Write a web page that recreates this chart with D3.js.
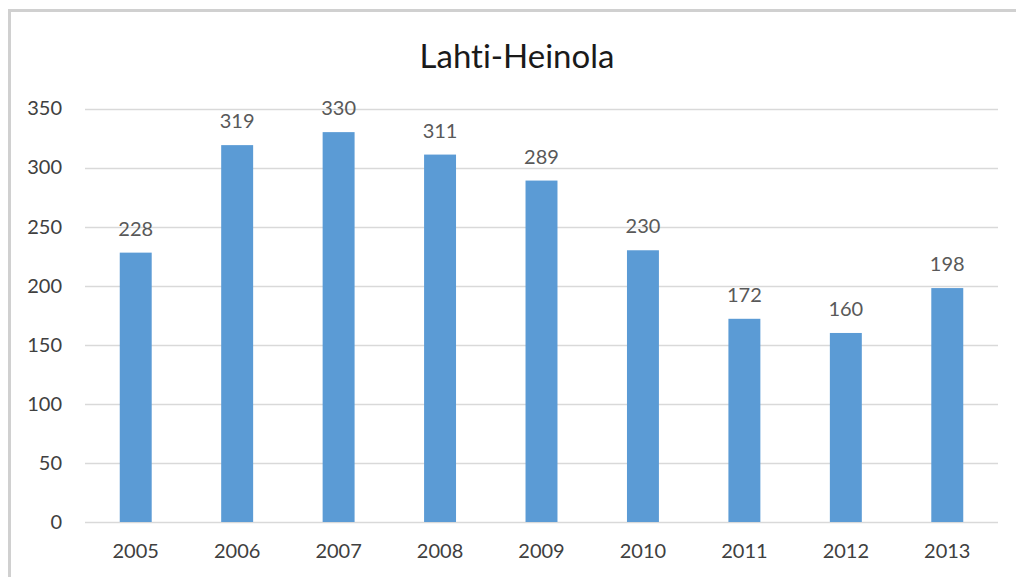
<!DOCTYPE html>
<html><head><meta charset="utf-8">
<script src="https://cdn.jsdelivr.net/npm/d3@7"></script>
<style>body{margin:0;background:#fff}svg{display:block}text{font-variant-ligatures:none;font-feature-settings:"liga" 0}</style>
</head><body><svg id="c" width="1016" height="577"></svg>
<script>
const categories = ["2005","2006","2007","2008","2009","2010","2011","2012","2013"];
const values = [228,319,330,311,289,230,172,160,198];
const yTicks = [0,50,100,150,200,250,300,350];
const title = "Lahti-Heinola";

const svg = d3.select("#c");
const font = "Lato, 'Open Sans', sans-serif";
// chart border (top and left)
svg.append("path").attr("d","M9.5,577 L9.5,10.5 L1016,10.5").attr("fill","none").attr("stroke","#d0d0d0").attr("stroke-width",3);

const x = d3.scaleBand().domain(categories).range([85,998]).paddingInner(0.685).paddingOuter(0.3425);
const y = d3.scaleLinear().domain([0,350]).range([522,108.5]);

svg.append("g").selectAll("line").data(yTicks).join("line")
  .attr("x1",85).attr("x2",998).attr("y1",d=>Math.round(y(d))+0.5).attr("y2",d=>Math.round(y(d))+0.5)
  .attr("stroke","#d9d9d9").attr("stroke-width",1.5);

const yAxis = svg.append("g").attr("transform","translate(62,0)")
  .call(d3.axisLeft(y).tickValues(yTicks).tickSize(0).tickPadding(0));
yAxis.select(".domain").remove();
yAxis.selectAll("text").attr("font-family",font).attr("font-size",20).attr("fill","#404040");

const xAxis = svg.append("g").attr("transform","translate(0,522)")
  .call(d3.axisBottom(x).tickSize(0).tickPadding(22));
xAxis.select(".domain").remove();
xAxis.selectAll("text").attr("font-family",font).attr("font-size",20).attr("fill","#404040");

svg.append("g").selectAll("rect").data(values).join("rect")
  .attr("x",(d,i)=>x(categories[i])).attr("width",x.bandwidth())
  .attr("y",d=>y(d)).attr("height",d=>y(0)-y(d)).attr("fill","#5b9bd5");

svg.append("g").selectAll("text").data(values).join("text")
  .attr("x",(d,i)=>x(categories[i])+x.bandwidth()/2).attr("y",d=>y(d)-17)
  .attr("text-anchor","middle").attr("font-family",font).attr("font-size",20).attr("fill","#595959")
  .text(d=>d);

svg.append("text").attr("x",517).attr("y",68).attr("text-anchor","middle")
  .attr("font-family",font).attr("font-size",33).attr("fill","#1a1a1a").text(title);
</script></body></html>
